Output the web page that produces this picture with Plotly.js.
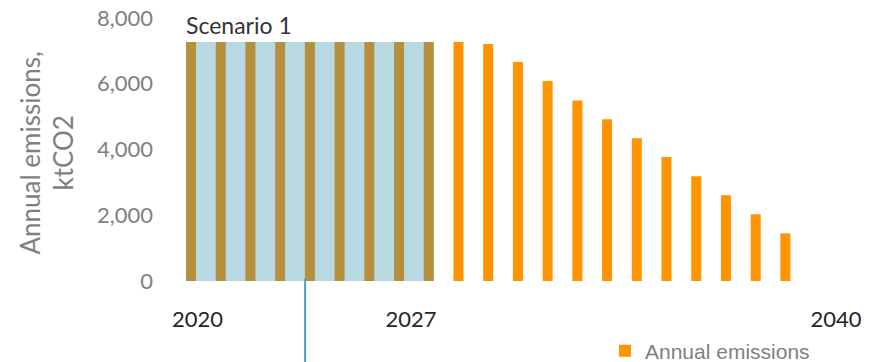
<!DOCTYPE html>
<html>
<head>
<meta charset="utf-8">
<script src="https://cdn.plot.ly/plotly-3.0.1.min.js"></script>
<style>
html,body{margin:0;padding:0;background:#ffffff;}
#chart{width:870px;height:362px;}
</style>
</head>
<body>
<div id="chart"></div>
<script>
// ---- data ----
const scenarioYears  = [2020, 2021, 2022, 2023, 2024, 2025, 2026, 2027, 2028];
const scenarioValues = [7270, 7270, 7270, 7270, 7270, 7270, 7270, 7270, 7270];
const emissionYears  = [2029, 2030, 2031, 2032, 2033, 2034, 2035, 2036, 2037, 2038, 2039, 2040];
const emissionValues = [7270, 7210, 6660, 6080, 5490, 4920, 4340, 3770, 3190, 2610, 2030, 1450];
const xTickLabels    = ['2020', '2027', '2040'];
const xTickPlaces    = [2020.22, 2027.40, 2041.70];
const yTickValues    = [0, 2000, 4000, 6000, 8000];
const yTickLabels    = ['0', '2,000', '4,000', '6,000', '8,000'];
const scenarioName   = 'Scenario 1';
const seriesName     = 'Annual emissions';
const markerYear     = 2023.84;

// ---- styling ----
const BAR_W   = 0.336;
const BROWN   = '#B5903C';
const SHADE   = '#B8D8E2';
const ORANGE  = '#FF9400';
const MARKER  = '#4A9FC2';
const FONT    = 'Lato, "Open Sans", sans-serif';

const traces = [
  {
    type: 'bar', x: scenarioYears, y: scenarioValues, width: BAR_W,
    marker: {color: BROWN}, showlegend: false, hoverinfo: 'skip'
  },
  {
    type: 'bar', x: emissionYears, y: emissionValues, width: BAR_W, name: seriesName,
    marker: {color: ORANGE}, showlegend: true, hoverinfo: 'skip'
  }
];

const shadeTop = Math.max(...scenarioValues);
const layout = {
  width: 870, height: 362,
  margin: {l: 160, r: 10, t: 18, b: 81, autoexpand: false},
  paper_bgcolor: '#ffffff', plot_bgcolor: 'rgba(0,0,0,0)',
  barmode: 'overlay',
  font: {family: FONT},
  xaxis: {
    range: [2018.957, 2042.51], showgrid: false, zeroline: false, showline: false,
    ticks: '', tickmode: 'array', tickvals: xTickPlaces, ticktext: xTickLabels,
    tickfont: {size: 22, color: '#262626', family: FONT}, ticklabelstandoff: 23
  },
  yaxis: {
    range: [0, 8000], showgrid: false, zeroline: false, showline: false,
    ticks: '', tickmode: 'array', tickvals: yTickValues, ticktext: yTickLabels,
    tickfont: {size: 22, color: '#7F7F7F', family: FONT}, ticklabelstandoff: 6
  },
  shapes: [
    {
      type: 'rect', layer: 'below', xref: 'x', yref: 'y',
      x0: scenarioYears[0] - BAR_W / 2, x1: scenarioYears[scenarioYears.length - 1] + BAR_W / 2,
      y0: 0, y1: shadeTop, fillcolor: SHADE, line: {width: 0}
    },
    {
      type: 'line', layer: 'above', xref: 'x', yref: 'paper',
      x0: markerYear, x1: markerYear, y0: -0.31, y1: 0.008,
      line: {color: MARKER, width: 2}
    }
  ],
  annotations: [
    {
      text: scenarioName, xref: 'x', yref: 'y', x: scenarioYears[0] - BAR_W / 2, y: shadeTop,
      xanchor: 'left', yanchor: 'bottom', xshift: -2, yshift: 1, showarrow: false,
      font: {size: 23, color: '#333333', family: FONT}
    },
    {
      text: 'Annual emissions,<br>ktCO2', xref: 'paper', yref: 'paper',
      x: (46 - 160) / 700, y: 0.5, xanchor: 'center', yanchor: 'middle', yshift: -4,
      textangle: -90, showarrow: false,
      font: {size: 26, color: '#7F7F7F', family: FONT}
    }
  ],
  showlegend: true,
  legend: {
    orientation: 'h', xref: 'container', yref: 'container',
    x: 605 / 870, y: (362 - 351) / 362,
    xanchor: 'left', yanchor: 'middle', bgcolor: 'rgba(0,0,0,0)',
    font: {size: 21, color: '#7F7F7F', family: '"Liberation Sans", Arial, sans-serif'}
  }
};

Plotly.newPlot('chart', traces, layout, {displayModeBar: false, staticPlot: true});
</script>
</body>
</html>
